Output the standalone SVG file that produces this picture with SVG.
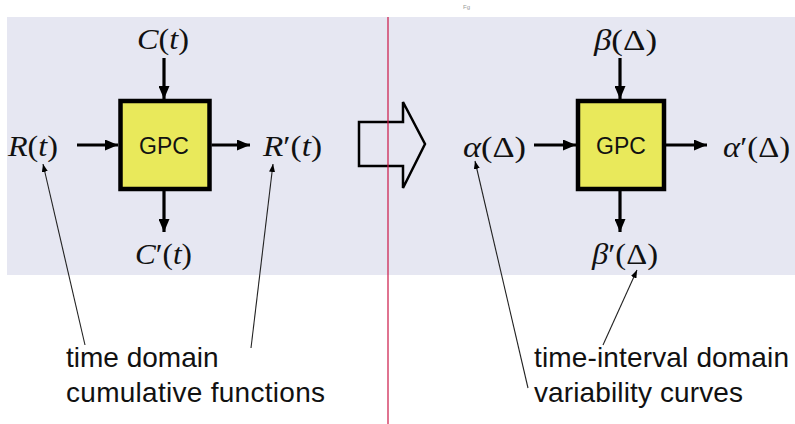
<svg xmlns="http://www.w3.org/2000/svg" width="795" height="424" viewBox="0 0 795 424">
<defs>
<style>
.bg{fill:#E6E7F2}
.box{fill:#E9E95B;stroke:#000;stroke-width:4.5}
.gpc{font-family:"Liberation Sans",Arial,sans-serif;font-size:23px;fill:#111;text-anchor:middle}
.m{font-family:"Liberation Serif","Times New Roman",serif;font-size:29px;fill:#111}
.i{font-style:italic}
.thick{stroke:#000;stroke-width:3.2;fill:none;marker-end:url(#ah)}
.thin{stroke:#222;stroke-width:1.1;fill:none;marker-end:url(#ahs)}
.note{font-family:"Liberation Sans",Arial,sans-serif;font-size:28px;fill:#111}
</style>
<marker id="ah" markerUnits="userSpaceOnUse" viewBox="0 0 13 11" refX="13" refY="5.5" markerWidth="13" markerHeight="11" orient="auto"><path d="M0,0 L13,5.5 L0,11 z" fill="#000"/></marker>
<marker id="ahs" markerUnits="userSpaceOnUse" viewBox="0 0 8 6" refX="8" refY="3" markerWidth="8" markerHeight="6" orient="auto"><path d="M0,0 L8,3 L0,6 z" fill="#000"/></marker>
</defs>
<rect class="bg" x="7" y="17" width="788" height="258"/>
<text x="463" y="9" font-family="Liberation Sans,sans-serif" font-size="6" fill="#999">Fg</text>

<g id="gpc-left">
<rect class="box" x="120.5" y="101" width="89" height="88"/>
<text class="gpc" x="164" y="154">GPC</text>
</g>
<g id="gpc-right">
<rect class="box" x="578" y="101" width="86" height="88"/>
<text class="gpc" x="621" y="154">GPC</text>
</g>

<g id="label-C"><text class="m" x="137" y="49" textLength="52" lengthAdjust="spacingAndGlyphs"><tspan class="i">C</tspan>(<tspan class="i">t</tspan>)</text></g>
<g id="label-R"><text class="m" x="8" y="156" textLength="50" lengthAdjust="spacingAndGlyphs"><tspan class="i">R</tspan>(<tspan class="i">t</tspan>)</text></g>
<g id="label-Rp"><text class="m" x="263" y="156" textLength="59" lengthAdjust="spacingAndGlyphs"><tspan class="i">R</tspan>′(<tspan class="i">t</tspan>)</text></g>
<g id="label-Cp"><text class="m" x="135" y="264" textLength="57" lengthAdjust="spacingAndGlyphs"><tspan class="i">C</tspan>′(<tspan class="i">t</tspan>)</text></g>
<g id="label-beta"><text class="m" x="594" y="50" textLength="63" lengthAdjust="spacingAndGlyphs"><tspan class="i">β</tspan>(Δ)</text></g>
<g id="label-alpha"><text class="m" x="463" y="157" textLength="63" lengthAdjust="spacingAndGlyphs"><tspan class="i">α</tspan>(Δ)</text></g>
<g id="label-alphap"><text class="m" x="723" y="157" textLength="67" lengthAdjust="spacingAndGlyphs"><tspan class="i">α</tspan>′(Δ)</text></g>
<g id="label-betap"><text class="m" x="592" y="264" textLength="66" lengthAdjust="spacingAndGlyphs"><tspan class="i">β</tspan>′(Δ)</text></g>

<g id="note-left">
<text class="note" x="66" y="367">time domain</text>
<text class="note" x="66" y="402" textLength="259">cumulative functions</text>
</g>
<g id="note-right">
<text class="note" x="534" y="367" textLength="255">time-interval domain</text>
<text class="note" x="534" y="402" textLength="209">variability curves</text>
</g>

<g id="connectors">
<line class="thick" x1="164" y1="58" x2="164" y2="99"/>
<line class="thick" x1="77" y1="145" x2="118" y2="145"/>
<line class="thick" x1="211.5" y1="145" x2="250" y2="145"/>
<line class="thick" x1="164" y1="191" x2="164" y2="232"/>
<line class="thick" x1="620" y1="58" x2="620" y2="99"/>
<line class="thick" x1="534" y1="145" x2="576" y2="145"/>
<line class="thick" x1="666" y1="145" x2="707" y2="145"/>
<line class="thick" x1="620" y1="191" x2="620" y2="232"/>
<line class="thin" x1="85" y1="345" x2="43" y2="164"/>
<line class="thin" x1="251" y1="348" x2="273" y2="164"/>
<line class="thin" x1="528" y1="388" x2="475" y2="161"/>
<line class="thin" x1="603" y1="345" x2="637" y2="270"/>
</g>

<g id="transform-arrow">
<polygon points="359,122 403,122 403,102 425,144 403,188 403,166 359,166" fill="none" stroke="#000" stroke-width="2.5" stroke-linejoin="miter"/>
</g>
<line x1="388" y1="17" x2="388" y2="424" stroke="#CC1646" stroke-width="1.2"/>
</svg>
